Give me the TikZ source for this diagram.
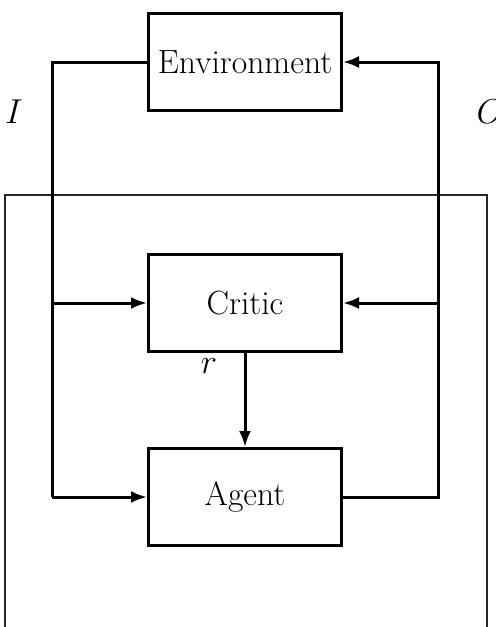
\documentclass[tikz,border=0pt]{standalone}
\usepackage{tikz}
\usetikzlibrary{arrows.meta, positioning, calc}

\begin{document}
\begin{tikzpicture}[
    x=0.5pt, y=-0.5pt,
    every node/.style={font=\fontsize{16.8}{20}\selectfont},
    block/.style={draw, line width=1.5pt, minimum width=96.5pt, minimum height=48.5pt,
                  inner sep=0pt, align=center},
    link/.style={line width=1.5pt},
    arrow/.style={-{Latex[length=8pt,width=6pt]}, line width=1.5pt},
    frame/.style={line width=1.1pt, black!85},
    label/.style={inner sep=0pt}
  ]
    \useasboundingbox (0,0) rectangle (496,627);

    \node[block] (env)    at (245,62)  {Environment};
    \node[block] (critic) at (245,303) {Critic};
    \node[block] (agent)  at (245,497) {Agent};

    \coordinate (ltop) at (52,62);
    \coordinate (lbot) at (52,497);
    \coordinate (rtop) at (438,62);
    \coordinate (rbot) at (438,497);

    % agent boundary
    \draw[frame] (5,627) -- (5,195) -- (487,195) -- (487,627);

    % input side
    \draw[link] (env.west) -- (ltop) -- (lbot);
    \draw[arrow] (lbot) -- (agent.west);
    \draw[arrow] (ltop |- critic.west) -- (critic.west);

    % output side
    \draw[arrow] (agent.east) -- (rbot) -- (rtop) -- (env.east);
    \draw[arrow] (rtop |- critic.east) -- (critic.east);

    % reward
    \draw[arrow] (critic) -- (agent);

    \node[label] (in)  at (14,112)  {$I$};
    \node[label] (out) at (490,112) {$O$};
    \node[label] (rew) at (209,366) {$r$};
  \end{tikzpicture}
\end{document}
